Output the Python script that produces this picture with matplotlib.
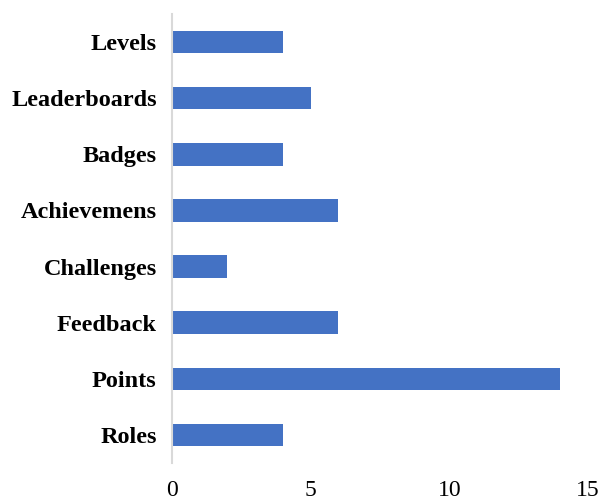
import matplotlib
matplotlib.use("Agg")
import matplotlib.pyplot as plt

categories = ["Roles", "Points", "Feedback", "Challenges", "Achievemens", "Badges", "Leaderboards", "Levels"]
values = [4, 14, 6, 2, 6, 4, 5, 4]
xticks = [0, 5, 10, 15]

W, H = 600, 503
fig = plt.figure(figsize=(6, 5.03), dpi=100)
ax = fig.add_axes([172 / W, (H - 463) / H, (588 - 172) / W, (463 - 14) / H])

ax.barh(range(len(categories)), values, height=0.4, color="#4472C4")
ax.set_xlim(0, 15)
ax.set_ylim(-0.5, len(categories) - 0.5)
ax.set_xticks(xticks)
ax.set_xticklabels([str(t) for t in xticks], fontfamily="Liberation Serif", fontsize=17)
ax.set_yticks(range(len(categories)))
ax.set_yticklabels(categories, fontfamily="Liberation Serif", fontweight="bold", fontsize=17.5)
ax.tick_params(axis="x", length=0, pad=12)
ax.tick_params(axis="y", length=0, pad=11)
for s in ["top", "right", "bottom"]:
    ax.spines[s].set_visible(False)
ax.spines["left"].set_color("#d9d9d9")
ax.spines["left"].set_linewidth(1.5)

fig.savefig("out.png", dpi=100)
